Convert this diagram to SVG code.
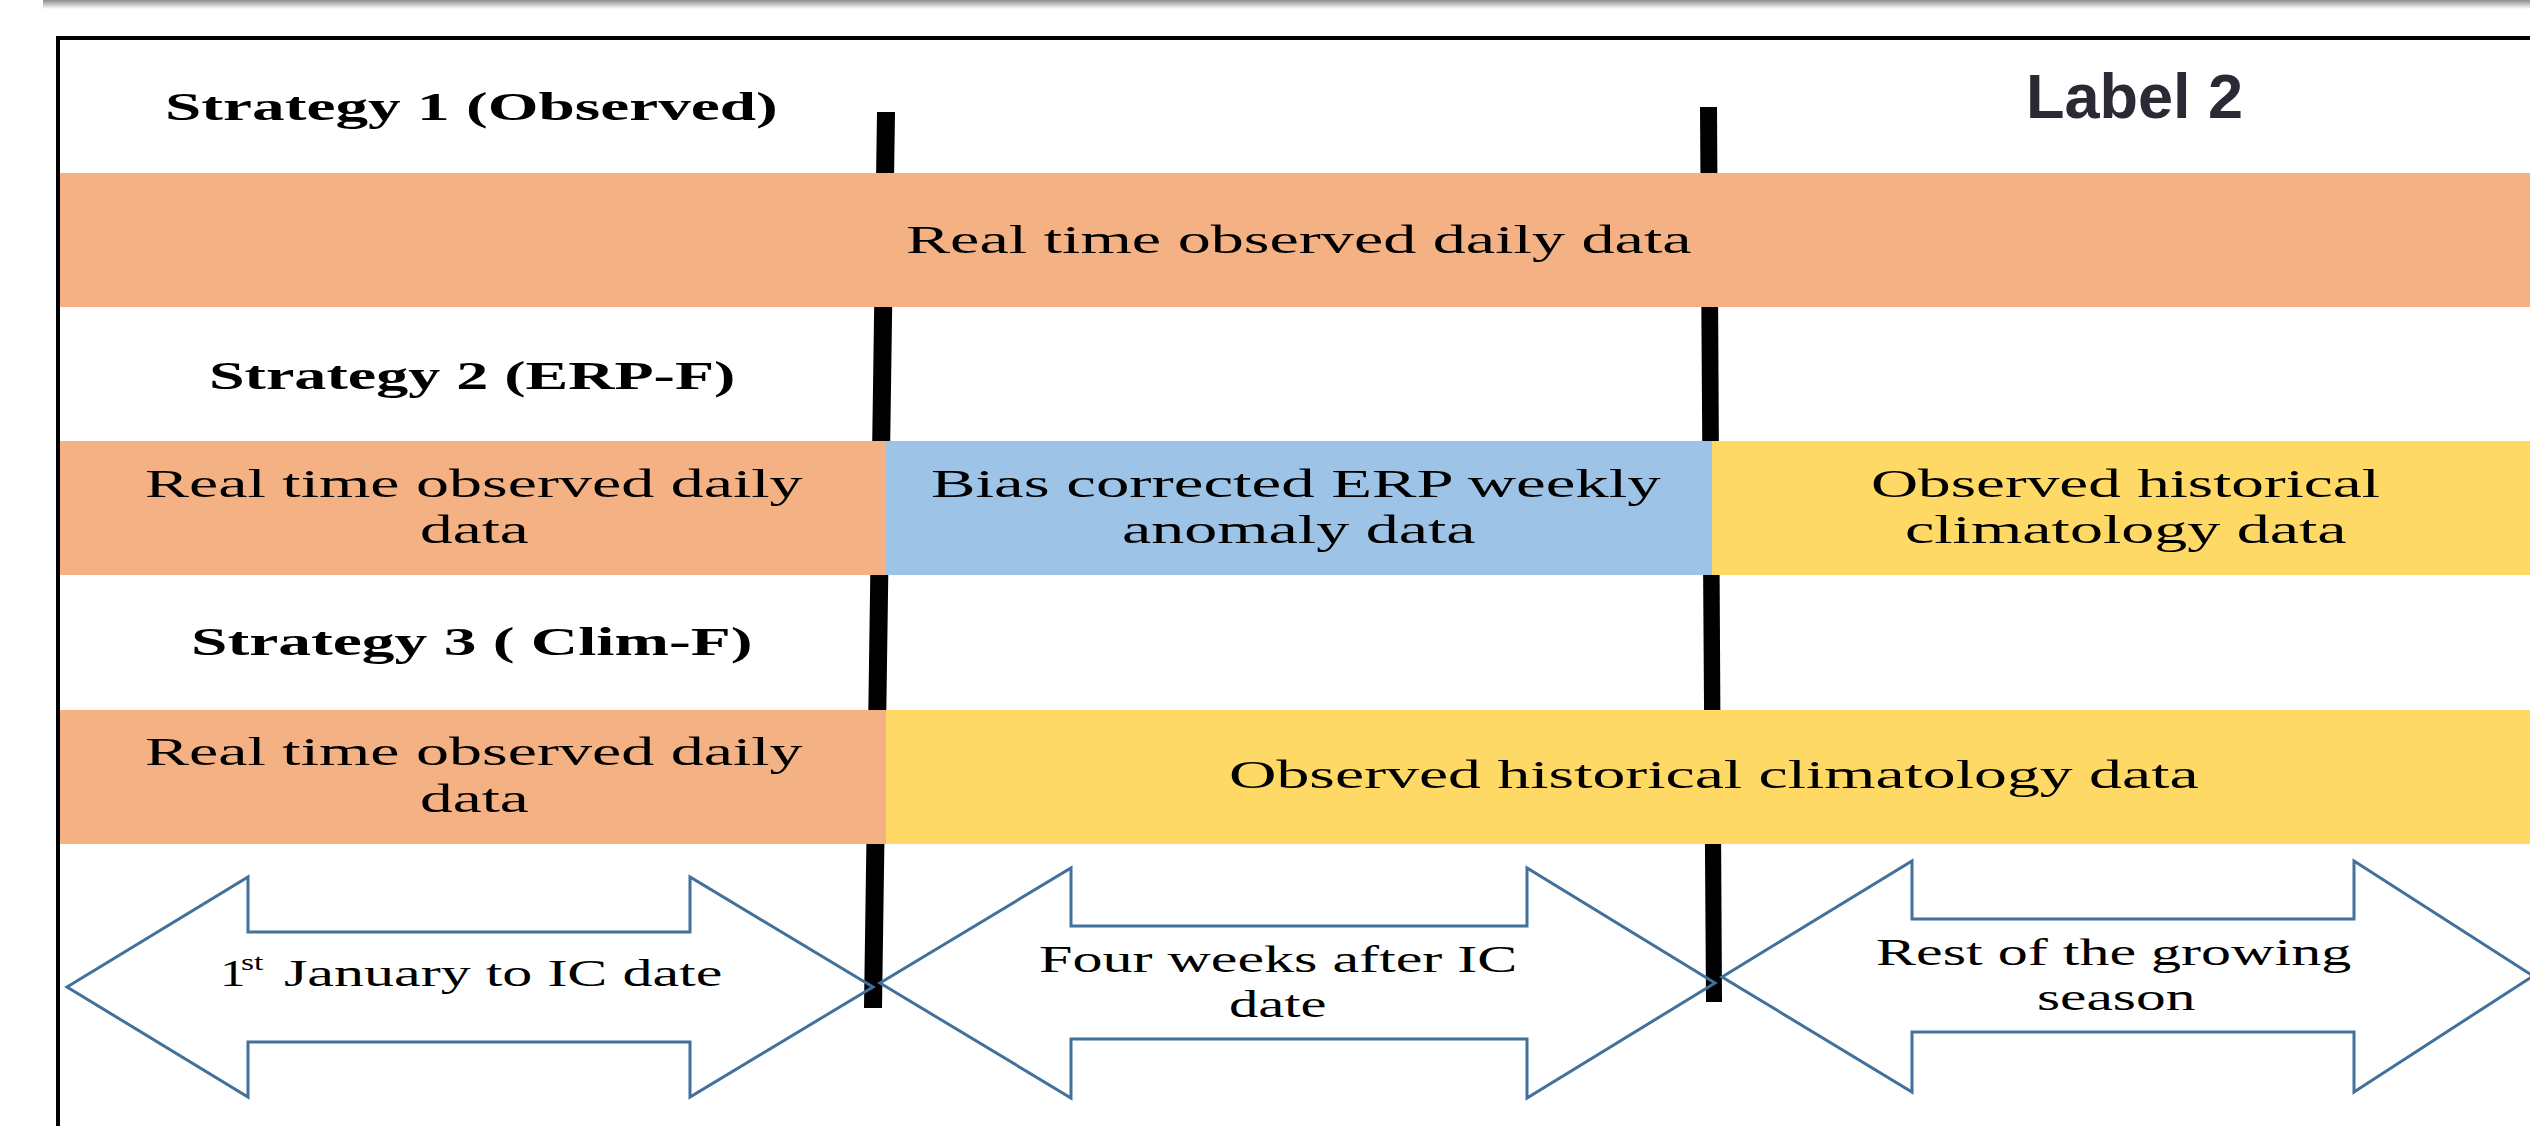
<svg xmlns="http://www.w3.org/2000/svg" width="2530" height="1126" viewBox="0 0 2530 1126">
<defs>
<linearGradient id="shadow" x1="0" y1="0" x2="0" y2="1">
<stop offset="0" stop-color="#8c8c8c"/>
<stop offset="1" stop-color="#ffffff"/>
</linearGradient>
<style>
.t{font-family:"Liberation Serif","Times New Roman",serif;font-size:41px;fill:#000}
.s{font-family:"Liberation Serif","Times New Roman",serif;font-size:41px;font-weight:bold;fill:#000}
.a{font-family:"Liberation Serif","Times New Roman",serif;font-size:37px;fill:#000}
.org{fill:#F4B183}
.blu{fill:#9DC3E6}
.yel{fill:#FFD966}
.arr{fill:none;stroke:#41719C;stroke-width:3;stroke-linejoin:miter}
.div{fill:#000}
</style>
</defs>
<rect width="2530" height="1126" fill="#fff"/>
<rect x="43" y="0" width="2487" height="9" fill="url(#shadow)"/>
<path d="M58,1126 V38 H2530" fill="none" stroke="#000" stroke-width="4"/>

<g id="dividers">
<polygon class="div" points="877,112 895,112 882,1008 864,1008"/>
<polygon class="div" points="1700,107 1717,107 1722,1002 1706,1002"/>
</g>

<g id="strategy1">
<text class="s" transform="matrix(1.6 0 0 1 165 120)" textLength="383" lengthAdjust="spacingAndGlyphs">Strategy 1 (Observed)</text>
<rect class="org" x="60" y="173" width="2470" height="134"/>
<text class="t" transform="matrix(1.6 0 0 1 906 253)" textLength="491" lengthAdjust="spacingAndGlyphs">Real time observed daily data</text>
</g>

<g id="strategy2">
<text class="s" transform="matrix(1.6 0 0 1 209 389)" textLength="329" lengthAdjust="spacingAndGlyphs">Strategy 2 (ERP-F)</text>
<rect class="org" x="60" y="441" width="826" height="134"/>
<rect class="blu" x="886" y="441" width="826" height="134"/>
<rect class="yel" x="1712" y="441" width="818" height="134"/>
<text class="t" transform="matrix(1.6 0 0 1 145 497)" textLength="411" lengthAdjust="spacingAndGlyphs">Real time observed daily</text>
<text class="t" transform="matrix(1.6 0 0 1 420 543)" textLength="68" lengthAdjust="spacingAndGlyphs">data</text>
<text class="t" transform="matrix(1.6 0 0 1 931 497)" textLength="456" lengthAdjust="spacingAndGlyphs">Bias corrected ERP weekly</text>
<text class="t" transform="matrix(1.6 0 0 1 1122 543)" textLength="221" lengthAdjust="spacingAndGlyphs">anomaly data</text>
<text class="t" transform="matrix(1.6 0 0 1 1871 497)" textLength="318" lengthAdjust="spacingAndGlyphs">Observed historical</text>
<text class="t" transform="matrix(1.6 0 0 1 1905 543)" textLength="276" lengthAdjust="spacingAndGlyphs">climatology data</text>
</g>

<g id="strategy3">
<text class="s" transform="matrix(1.6 0 0 1 191 655)" textLength="351" lengthAdjust="spacingAndGlyphs">Strategy 3 ( Clim-F)</text>
<rect class="org" x="60" y="710" width="826" height="134"/>
<rect class="yel" x="886" y="710" width="1644" height="134"/>
<text class="t" transform="matrix(1.6 0 0 1 145 765)" textLength="411" lengthAdjust="spacingAndGlyphs">Real time observed daily</text>
<text class="t" transform="matrix(1.6 0 0 1 420 812)" textLength="68" lengthAdjust="spacingAndGlyphs">data</text>
<text class="t" transform="matrix(1.6 0 0 1 1229 788)" textLength="606" lengthAdjust="spacingAndGlyphs">Observed historical climatology data</text>
</g>

<g id="label2">
<text x="2026" y="118" font-family="'Liberation Sans',Arial,sans-serif" font-size="63" font-weight="bold" fill="#2a2a34">Label 2</text>
</g>

<g id="connectors">
<g id="arrow1">
<polygon class="arr" points="67,987 248,877 248,932 690,932 690,877 873,987 690,1097 690,1042 248,1042 248,1097"/>
<text class="a" transform="matrix(1.6 0 0 1 220 986)" textLength="16" lengthAdjust="spacingAndGlyphs">1</text>
<text class="a" transform="matrix(1.6 0 0 1 241 970)" textLength="14" lengthAdjust="spacingAndGlyphs" style="font-size:23px">st</text>
<text class="a" transform="matrix(1.6 0 0 1 284 986)" textLength="274" lengthAdjust="spacingAndGlyphs">January to IC date</text>
</g>
<g id="arrow2">
<polygon class="arr" points="880,983 1071,868 1071,926 1527,926 1527,868 1715,983 1527,1098 1527,1039 1071,1039 1071,1098"/>
<text class="a" transform="matrix(1.6 0 0 1 1039 972)" textLength="299" lengthAdjust="spacingAndGlyphs">Four weeks after IC</text>
<text class="a" transform="matrix(1.6 0 0 1 1229 1017)" textLength="61" lengthAdjust="spacingAndGlyphs">date</text>
</g>
<g id="arrow3">
<polygon class="arr" points="1722,977 1912,861 1912,919 2354,919 2354,861 2533,976 2354,1092 2354,1032 1912,1032 1912,1092"/>
<text class="a" transform="matrix(1.6 0 0 1 1876 965)" textLength="297" lengthAdjust="spacingAndGlyphs">Rest of the growing</text>
<text class="a" transform="matrix(1.6 0 0 1 2037 1010)" textLength="99" lengthAdjust="spacingAndGlyphs">season</text>
</g>
</g>
</svg>
